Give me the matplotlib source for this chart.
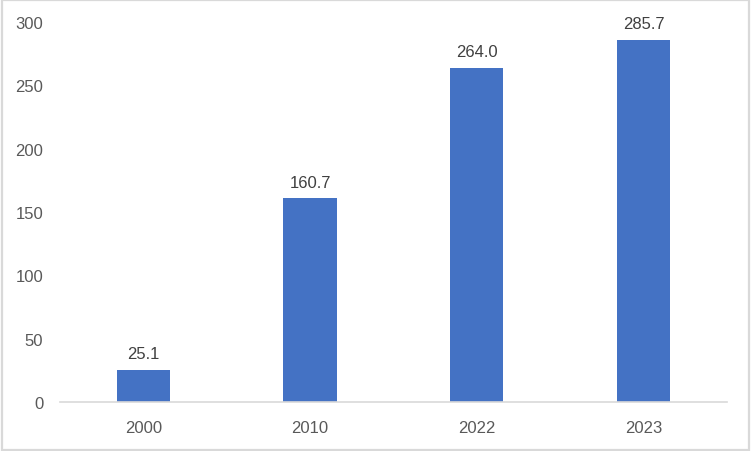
import matplotlib
matplotlib.use("Agg")
import matplotlib.pyplot as plt
from matplotlib.patches import Rectangle

years = ["2000", "2010", "2022", "2023"]
values = [25.1, 160.7, 264.0, 285.7]
yticks = [0, 50, 100, 150, 200, 250, 300]

BAR = "#4472c4"
TXT = "#595959"

plt.rcParams["font.family"] = ["Liberation Sans", "DejaVu Sans"]

fig = plt.figure(figsize=(7.51, 4.52), dpi=100)
ax = fig.add_axes([0.0799, 0.1084, 0.888, 0.8407])

x = range(len(years))
bars = ax.bar(x, values, width=0.32, color=BAR)
for b, v in zip(bars, values):
    ax.text(b.get_x() + b.get_width() / 2, v + 7, f"{v:.1f}",
            ha="center", va="bottom", fontsize=12, color="#404040")

ax.set_xlim(-0.5, len(years) - 0.5)
ax.set_ylim(0, 300)
ax.set_xticks(list(x))
ax.set_xticklabels(years)
ax.set_yticks(yticks)
ax.tick_params(length=0, labelsize=12, labelcolor=TXT)
ax.tick_params(axis="x", pad=13)
ax.tick_params(axis="y", pad=12)
for s in ["top", "right", "left"]:
    ax.spines[s].set_visible(False)
ax.spines["bottom"].set_color("#d9d9d9")
ax.spines["bottom"].set_linewidth(1.2)

# light outer border like the chart area frame
fig.patches.append(Rectangle((0.002, 0.003), 0.996, 0.994, transform=fig.transFigure,
                             fill=False, edgecolor="#d9d9d9", linewidth=1.6))

fig.savefig("out.png", dpi=100)
